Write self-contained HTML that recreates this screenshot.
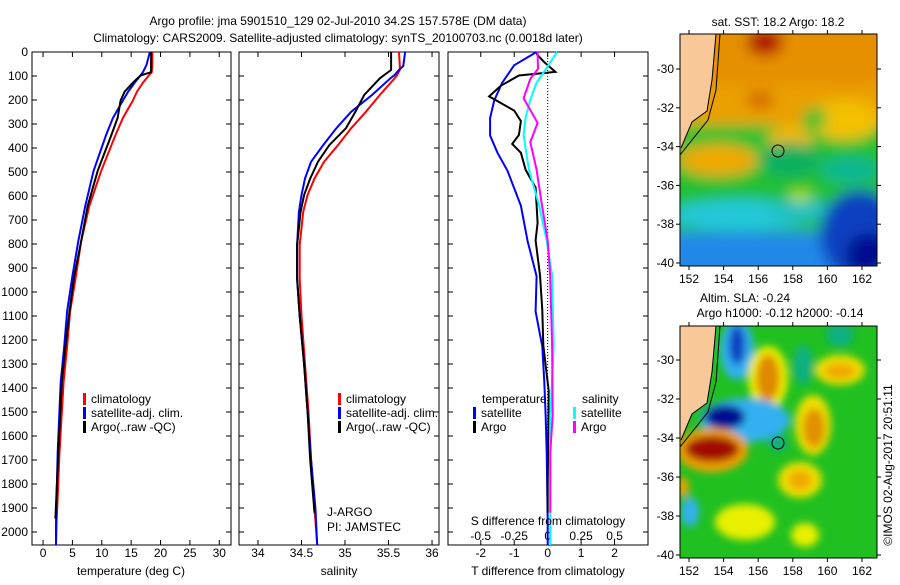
<!DOCTYPE html>
<html><head><meta charset="utf-8"><style>
body{margin:0;background:#fff}
svg text{font-family:"Liberation Sans",sans-serif;font-size:12px;fill:#000}
</style></head><body>
<svg id="fig" width="900" height="580" viewBox="0 0 900 580" xmlns="http://www.w3.org/2000/svg">
<defs>
<filter id="bl" filterUnits="userSpaceOnUse" x="600" y="0" width="300" height="600"><feGaussianBlur stdDeviation="7"/></filter>
<filter id="bl2" filterUnits="userSpaceOnUse" x="600" y="0" width="300" height="600"><feGaussianBlur stdDeviation="4"/></filter>
<clipPath id="cm1"><rect x="680" y="34" width="197" height="232"/></clipPath>
<clipPath id="cm2"><rect x="680" y="326" width="197" height="232"/></clipPath>
</defs>
<text x="338" y="25" text-anchor="middle">Argo profile: jma 5901510_129 02-Jul-2010 34.2S 157.578E (DM data)</text>
<text x="338" y="42" text-anchor="middle">Climatology: CARS2009. Satellite-adjusted climatology: synTS_20100703.nc (0.0018d later)</text>
<g id="p1"></g>
<g id="p2"></g>
<g id="p3"></g>

<g>
<text x="778" y="26" text-anchor="middle">sat. SST: 18.2 Argo: 18.2</text>
<g clip-path="url(#cm1)">
<g filter="url(#bl)">
<rect x="640" y="0" width="260" height="600" fill="#20c030"/>
<rect x="640" y="0" width="260" height="125" fill="#eaa000"/>
<rect x="640" y="0" width="260" height="85" fill="#e69000"/>
<ellipse cx="765" cy="42" rx="18" ry="14" fill="#b01000"/>
<ellipse cx="760" cy="100" rx="14" ry="8" fill="#d06000"/>
<ellipse cx="845" cy="120" rx="35" ry="20" fill="#f4c000"/>
<ellipse cx="790" cy="140" rx="22" ry="15" fill="#f0b800"/>
<ellipse cx="815" cy="118" rx="12" ry="10" fill="#20c030"/>
<ellipse cx="718" cy="160" rx="40" ry="16" fill="#f0a800"/>
<ellipse cx="790" cy="160" rx="30" ry="18" fill="#10b060"/>
<ellipse cx="850" cy="170" rx="30" ry="14" fill="#10b890"/>
<ellipse cx="740" cy="215" rx="70" ry="16" fill="#20c8d8"/>
<ellipse cx="800" cy="210" rx="30" ry="12" fill="#20c0c0"/>
<rect x="640" y="232" width="260" height="60" fill="#2088e8"/>
<ellipse cx="860" cy="235" rx="40" ry="45" fill="#1040c0"/>
<ellipse cx="868" cy="255" rx="22" ry="22" fill="#001090"/>
<ellipse cx="800" cy="196" rx="12" ry="6" fill="#b0e000"/>
</g>
<polygon points="680,34 716,34 712,80 707,111 692,122 681,148 680,148" fill="#f8c898"/>
<polyline points="716,34 712,80 707,111 692,122 681,148" fill="none" stroke="#000" stroke-width="1"/>
<polyline points="720,34 716,90 708,120 680,155" fill="none" stroke="#000" stroke-width="1"/>
</g>
<rect x="680" y="34" width="197" height="232" fill="none" stroke="#000"/>
<circle cx="778" cy="151" r="6" fill="none" stroke="#000"/>
<g id="m1ax"></g>
</g>

<g>
<text x="745" y="302" text-anchor="middle">Altim. SLA: -0.24</text>
<text x="780" y="317" text-anchor="middle">Argo h1000: -0.12 h2000: -0.14</text>
<g clip-path="url(#cm2)">
<rect x="680" y="326" width="197" height="232" fill="#20c020"/>
<g filter="url(#bl2)">
<ellipse cx="737" cy="350" rx="17" ry="30" fill="#30b0f0"/>
<ellipse cx="737" cy="345" rx="8" ry="20" fill="#1040c0"/>
<ellipse cx="768" cy="378" rx="20" ry="32" fill="#f0f000"/>
<ellipse cx="768" cy="378" rx="12" ry="24" fill="#e08800"/>
<ellipse cx="745" cy="420" rx="45" ry="22" fill="#30b0f0"/>
<ellipse cx="725" cy="417" rx="20" ry="12" fill="#000a90"/>
<ellipse cx="712" cy="450" rx="36" ry="22" fill="#f0a000"/>
<ellipse cx="712" cy="449" rx="27" ry="13" fill="#a01000"/>
<ellipse cx="813" cy="425" rx="18" ry="30" fill="#f0e000"/>
<ellipse cx="814" cy="428" rx="11" ry="20" fill="#e09000"/>
<ellipse cx="840" cy="370" rx="25" ry="15" fill="#f0e000"/>
<ellipse cx="840" cy="371" rx="16" ry="8" fill="#f0a800"/>
<ellipse cx="800" cy="480" rx="22" ry="18" fill="#f0e000"/>
<ellipse cx="800" cy="480" rx="12" ry="10" fill="#f0a800"/>
<ellipse cx="745" cy="522" rx="30" ry="18" fill="#e8f000"/>
<ellipse cx="805" cy="535" rx="14" ry="12" fill="#e8f000"/>
<ellipse cx="690" cy="512" rx="9" ry="15" fill="#30b0f0"/>
<ellipse cx="683" cy="487" rx="6" ry="10" fill="#f0a000"/>
<ellipse cx="840" cy="335" rx="14" ry="12" fill="#10b080"/>
<ellipse cx="803" cy="365" rx="10" ry="20" fill="#10b080"/>
<ellipse cx="778" cy="443" rx="10" ry="8" fill="#10b080"/>
</g>
<polygon points="680,326 716,326 712,372 707,403 692,414 681,440 680,440" fill="#f8c898"/>
<polyline points="716,326 712,372 707,403 692,414 681,440" fill="none" stroke="#000" stroke-width="1"/>
<polyline points="720,326 716,382 708,412 680,447" fill="none" stroke="#000" stroke-width="1"/>
</g>
<rect x="680" y="326" width="197" height="232" fill="none" stroke="#000"/>
<circle cx="778" cy="443" r="6" fill="none" stroke="#000"/>
<g id="m2ax"></g>
</g>
<text transform="translate(892,465) rotate(-90)" text-anchor="middle">©IMOS 02-Aug-2017 20:51:11</text>
</svg>
<script>
// depth axis shared
const depthTicks=[0,100,200,300,400,500,600,700,800,900,1000,1100,1200,1300,1400,1500,1600,1700,1800,1900,2000];
// temperature panel
const tDepth=[0,55,84,98,128,165,202,275,348,495,641,788,934,1081,1228,1375,1668,1961,2054];
const tClim=[18.6,18.6,18.5,18.0,17.0,16.0,15.3,13.6,12.3,9.9,7.9,6.5,5.6,4.6,4.1,3.5,2.8,2.3,2.2];
const tSat=[18.2,17.6,17.0,16.6,15.6,14.5,13.6,11.9,10.7,8.6,7.2,6.0,5.0,4.1,3.6,3.0,2.5,2.2,2.2];
const tArgoDepth=[0,55,84,98,128,165,202,275,348,495,641,788,934,1081,1228,1375,1668,1944];
const tArgo=[18.4,18.4,18.4,16.6,15.3,13.9,13.2,12.7,11.6,9.3,7.6,6.5,5.3,4.5,3.8,3.2,2.6,2.1];
const tTicks=[0,5,10,15,20,25,30];
// salinity panel
const sDepth=[0,58,75,96,110,179,249,318,388,457,527,596,666,805,944,1100,1300,1500,1700,1900,2054];
const sClim=[35.62,35.63,35.63,35.60,35.57,35.40,35.24,35.07,34.92,34.76,34.65,34.57,34.52,34.48,34.48,34.50,34.54,34.58,34.61,34.65,34.68];
const sSat=[35.69,35.67,35.62,35.57,35.52,35.31,35.07,34.90,34.75,34.61,34.54,34.50,34.47,34.45,34.45,34.48,34.53,34.57,34.61,34.66,34.68];
const sArgoDepth=[0,58,75,96,110,179,249,318,388,457,527,596,666,805,944,1100,1300,1500,1700,1920];
const sArgo=[35.53,35.53,35.53,35.45,35.40,35.22,35.12,35.01,34.82,34.69,34.60,34.53,34.49,34.45,34.45,34.48,34.53,34.57,34.60,34.65];
const sTicks=[34,34.5,35,35.5,36];
// difference panel
const dDepth=[0,55,128,202,275,348,420,495,641,788,934,1081,1228,1375,1521,1668,1961,2054];
const dTsat=[-0.33,-1.0,-1.36,-1.6,-1.72,-1.72,-1.5,-1.2,-0.8,-0.6,-0.33,-0.36,-0.16,-0.1,-0.06,-0.03,0,0];
const dTargoDepth=[0,10,40,83,98,141,185,244,288,346,383,420,491,565,712,785,930,1076,1222,1412,1800,1920];
const dTargo=[-0.3,-0.32,-0.12,0.23,-0.86,-1.4,-1.75,-1.0,-0.8,-0.86,-1.06,-0.8,-0.66,-0.36,-0.3,-0.36,-0.23,-0.16,-0.13,0.03,0,0];
const dSsatDepth=[0,70,127,200,273,346,491,637,785,930,1222,1514,1953,2054];
const dSsat=[0.07,-0.012,-0.083,-0.13,-0.165,-0.18,-0.14,-0.065,-0.008,0.033,0.045,0.02,0.02,0.02];
const dSargoDepth=[0,10,70,112,193,295,376,491,637,785,930,1222,1514,1668,1920];
const dSargo=[-0.075,-0.075,-0.072,-0.13,-0.18,-0.075,-0.13,-0.083,-0.043,0,0.018,0.033,0.038,0.02,0.02];
const dTticks=[-2,-1,0,1,2];
const dSticks=[-0.5,-0.25,0,0.25,0.5];
const dStickLabels=["-0.5","-0.25","0","0.25","0.5"];
// maps
const lonTicks=[152,154,156,158,160,162];
const latTicks=[-30,-32,-34,-36,-38,-40];

const NS='http://www.w3.org/2000/svg';
function mk(parent,tag,attrs,txt){const e=document.createElementNS(NS,tag);for(const k in attrs)e.setAttribute(k,attrs[k]);if(txt!==undefined)e.textContent=txt;parent.appendChild(e);return e;}
const Y0=52,Y1=545;
const yD=d=>Y0+d*0.24;
function panel(g,x0,x1,vmin,vmax){return v=>x0+(v-vmin)/(vmax-vmin)*(x1-x0);}
function frame(g,x0,x1,showDepth){
  const r=mk(g,'rect',{x:x0,y:Y0,width:x1-x0,height:Y1-Y0,fill:'none',stroke:'#000'});
  
  
  depthTicks.forEach(d=>{
    mk(g,'line',{x1:x0,x2:x0+5,y1:yD(d),y2:yD(d),stroke:'#000'});
    mk(g,'line',{x1:x1,x2:x1-5,y1:yD(d),y2:yD(d),stroke:'#000'});
    if(showDepth){const t=mk(g,'text',{x:x0-4,y:yD(d)+4,'text-anchor':'end'},String(d));
      
      }
  });
}
function xticks(g,sx,ticks,labels,ly){
  ticks.forEach((v,i)=>{
    mk(g,'line',{x1:sx(v),x2:sx(v),y1:Y1,y2:Y1-5,stroke:'#000'});
    mk(g,'line',{x1:sx(v),x2:sx(v),y1:Y0,y2:Y0+5,stroke:'#000'});
    if(ly){const t=mk(g,'text',{x:sx(v),y:ly,'text-anchor':'middle'},labels[i]);
      
      }
  });
}
function line(g,sx,vals,depths,col,name){
  const pts=vals.map((v,i)=>sx(v).toFixed(1)+','+yD(depths[i]).toFixed(1)).join(' ');
  const p=mk(g,'polyline',{points:pts,fill:'none',stroke:col,'stroke-width':2});
  
  
}
function legend(g,x,y,col,label){
  mk(g,'rect',{x:x,y:y-10,width:3,height:12,fill:col});
  const t=mk(g,'text',{x:x+8,y:y},label);
  
  
}
// panel 1
{const g=document.getElementById('p1');const sx=panel(g,32,231,-1.88,32.0);
frame(g,32,231,true);xticks(g,sx,tTicks,tTicks.map(String),557);
line(g,sx,tClim,tDepth,'#f00','temp-climatology-line');
line(g,sx,tSat,tDepth,'#00f','temp-satellite-line');
line(g,sx,tArgo,tArgoDepth,'#000','temp-argo-line');
legend(g,83,403,'#f00','climatology');legend(g,83,417,'#00f','satellite-adj. clim.');legend(g,83,431,'#000','Argo(..raw -QC)');
const t=mk(g,'text',{x:131,y:575,'text-anchor':'middle'},'temperature (deg C)');}
// panel 2
{const g=document.getElementById('p2');const sx=panel(g,239,439,33.782,36.08);
frame(g,239,439,false);xticks(g,sx,sTicks,sTicks.map(String),557);
line(g,sx,sClim,sDepth,'#f00','sal-climatology-line');
line(g,sx,sSat,sDepth,'#00f','sal-satellite-line');
line(g,sx,sArgo,sArgoDepth,'#000','sal-argo-line');
legend(g,338,403,'#f00','climatology');legend(g,338,417,'#00f','satellite-adj. clim.');legend(g,338,431,'#000','Argo(..raw -QC)');
let t=mk(g,'text',{x:327,y:516},'J-ARGO');
t=mk(g,'text',{x:327,y:531},'PI: JAMSTEC');
t=mk(g,'text',{x:339,y:575,'text-anchor':'middle'},'salinity');}
// panel 3
{const g=document.getElementById('p3');const sx=panel(g,448,648,-2.98,3.0);const ss=v=>sx(v*4);
frame(g,448,648,false);xticks(g,sx,dTticks,dTticks.map(String),557);
dSticks.forEach((v,i)=>{const t=mk(g,'text',{x:ss(v),y:540,'text-anchor':'middle'},dStickLabels[i]);});
mk(g,'line',{x1:sx(0),x2:sx(0),y1:Y0,y2:Y1,stroke:'#000','stroke-dasharray':'1,2'});
line(g,sx,dTsat,dDepth,'#00f','tdiff-satellite-line');
line(g,sx,dTargo,dTargoDepth,'#000','tdiff-argo-line');
line(g,ss,dSsat,dSsatDepth,'#0ff','sdiff-satellite-line');
line(g,ss,dSargo,dSargoDepth,'#f0f','sdiff-argo-line');
let t=mk(g,'text',{x:482,y:403},'temperature');
t=mk(g,'text',{x:582,y:403},'salinity');
legend(g,473,417,'#00f','satellite');legend(g,473,431,'#000','Argo');
legend(g,573,417,'#0ff','satellite');legend(g,573,431,'#f0f','Argo');
t=mk(g,'text',{x:548,y:525,'text-anchor':'middle'},'S difference from climatology');
t=mk(g,'text',{x:548,y:575,'text-anchor':'middle'},'T difference from climatology');}
// map axes
function mapAxes(id,y0,y1,latTop,latPxPerDeg){
  const g=document.getElementById(id);
  const sx=v=>689+(v-152)*17.3;
  const sy=v=>latTop+(-30-v)*latPxPerDeg;
  lonTicks.forEach(v=>{mk(g,'line',{x1:sx(v),x2:sx(v),y1:y1,y2:y1+4,stroke:'#000'});mk(g,'line',{x1:sx(v),x2:sx(v),y1:y0,y2:y0-4,stroke:'#000'});
    const t=mk(g,'text',{x:sx(v),y:y1+17,'text-anchor':'middle'},String(v));});
  latTicks.forEach(v=>{mk(g,'line',{x1:680,x2:676,y1:sy(v),y2:sy(v),stroke:'#000'});mk(g,'line',{x1:877,x2:881,y1:sy(v),y2:sy(v),stroke:'#000'});
    const t=mk(g,'text',{x:674,y:sy(v)+4,'text-anchor':'end'},String(v));});
}
mapAxes('m1ax',34,266,69,19.4);
mapAxes('m2ax',326,558,360,19.5);
</script>
</body></html>
